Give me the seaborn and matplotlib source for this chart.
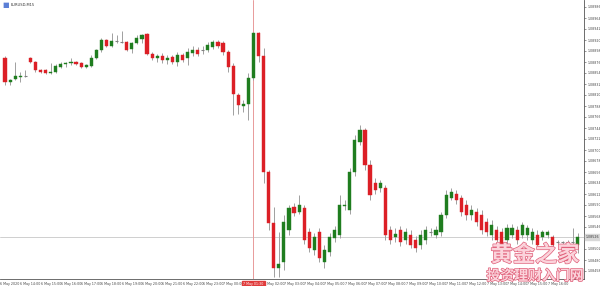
import numpy as np
import pandas as pd
import matplotlib
matplotlib.use("Agg")
import matplotlib.pyplot as plt
import matplotlib.patheffects as pe
import seaborn as sns

symbol = "EURUSD,M15"

opens = [1.08884, 1.08836, 1.08842, 1.08846, 1.08848, 1.08884, 1.08876, 1.08860, 1.08860, 1.08854,
         1.08856, 1.08866, 1.08872, 1.08874, 1.08876, 1.08874, 1.08866, 1.08868, 1.08884, 1.08900,
         1.08920, 1.08908, 1.08918, 1.08916, 1.08916, 1.08902, 1.08914, 1.08922, 1.08932, 1.08892,
         1.08884, 1.08888, 1.08880, 1.08886, 1.08876, 1.08890, 1.08884, 1.08894, 1.08900, 1.08900,
         1.08900, 1.08906, 1.08916, 1.08914, 1.08896, 1.08868, 1.08810, 1.08788, 1.08792, 1.08844,
         1.08934, 1.08888, 1.08656, 1.08554, 1.08464, 1.08476, 1.08540, 1.08586, 1.08576, 1.08584,
         1.08536, 1.08500, 1.08536, 1.08476, 1.08496, 1.08524, 1.08530, 1.08588, 1.08580, 1.08656,
         1.08716, 1.08740, 1.08670, 1.08634, 1.08624, 1.08624, 1.08540, 1.08526, 1.08540, 1.08520,
         1.08530, 1.08520, 1.08510, 1.08520, 1.08536, 1.08530, 1.08536, 1.08570, 1.08604, 1.08612,
         1.08604, 1.08590, 1.08570, 1.08576, 1.08570, 1.08556, 1.08530, 1.08540, 1.08536, 1.08520,
         1.08530, 1.08540, 1.08530, 1.08530, 1.08520, 1.08530, 1.08526, 1.08530, 1.08526, 1.08516,
         1.08516, 1.08516, 1.08516, 1.08510]
highs = [1.08888, 1.08842, 1.08876, 1.08856, 1.08860, 1.08886, 1.08878, 1.08862, 1.08862, 1.08874,
         1.08872, 1.08876, 1.08876, 1.08884, 1.08878, 1.08876, 1.08872, 1.08890, 1.08902, 1.08924,
         1.08922, 1.08934, 1.08930, 1.08938, 1.08918, 1.08916, 1.08930, 1.08932, 1.08934, 1.08896,
         1.08892, 1.08894, 1.08890, 1.08890, 1.08896, 1.08894, 1.08904, 1.08908, 1.08906, 1.08908,
         1.08916, 1.08920, 1.08920, 1.08918, 1.08900, 1.08874, 1.08814, 1.08800, 1.08854, 1.08936,
         1.08936, 1.08904, 1.08660, 1.08586, 1.08536, 1.08570, 1.08590, 1.08594, 1.08610, 1.08590,
         1.08544, 1.08534, 1.08544, 1.08510, 1.08534, 1.08548, 1.08610, 1.08600, 1.08664, 1.08730,
         1.08750, 1.08744, 1.08680, 1.08644, 1.08640, 1.08630, 1.08548, 1.08544, 1.08548, 1.08544,
         1.08540, 1.08528, 1.08540, 1.08548, 1.08544, 1.08548, 1.08576, 1.08620, 1.08624, 1.08620,
         1.08610, 1.08600, 1.08590, 1.08584, 1.08580, 1.08564, 1.08560, 1.08548, 1.08544, 1.08552,
         1.08552, 1.08548, 1.08556, 1.08550, 1.08544, 1.08540, 1.08540, 1.08540, 1.08530, 1.08520,
         1.08518, 1.08520, 1.08544, 1.08534]
lows = [1.08830, 1.08830, 1.08840, 1.08836, 1.08846, 1.08874, 1.08856, 1.08854, 1.08852, 1.08852,
        1.08854, 1.08864, 1.08866, 1.08870, 1.08870, 1.08864, 1.08864, 1.08866, 1.08882, 1.08896,
        1.08906, 1.08906, 1.08914, 1.08914, 1.08898, 1.08894, 1.08912, 1.08914, 1.08890, 1.08880,
        1.08876, 1.08874, 1.08872, 1.08872, 1.08868, 1.08876, 1.08870, 1.08888, 1.08888, 1.08892,
        1.08896, 1.08902, 1.08904, 1.08890, 1.08856, 1.08770, 1.08772, 1.08776, 1.08760, 1.08840,
        1.08876, 1.08634, 1.08540, 1.08446, 1.08446, 1.08460, 1.08530, 1.08568, 1.08572, 1.08512,
        1.08496, 1.08490, 1.08476, 1.08464, 1.08488, 1.08516, 1.08524, 1.08580, 1.08572, 1.08648,
        1.08710, 1.08660, 1.08600, 1.08612, 1.08616, 1.08520, 1.08512, 1.08516, 1.08508, 1.08512,
        1.08504, 1.08496, 1.08502, 1.08512, 1.08528, 1.08524, 1.08528, 1.08564, 1.08600, 1.08592,
        1.08568, 1.08560, 1.08560, 1.08548, 1.08532, 1.08528, 1.08520, 1.08512, 1.08504, 1.08512,
        1.08524, 1.08512, 1.08524, 1.08520, 1.08512, 1.08504, 1.08520, 1.08524, 1.08500, 1.08512,
        1.08512, 1.08512, 1.08494, 1.08494]
closes = [1.08836, 1.08840, 1.08848, 1.08848, 1.08848, 1.08876, 1.08860, 1.08856, 1.08854, 1.08856,
          1.08868, 1.08872, 1.08874, 1.08876, 1.08872, 1.08866, 1.08870, 1.08884, 1.08900, 1.08920,
          1.08908, 1.08918, 1.08918, 1.08916, 1.08900, 1.08914, 1.08924, 1.08930, 1.08892, 1.08884,
          1.08888, 1.08880, 1.08884, 1.08876, 1.08890, 1.08880, 1.08896, 1.08900, 1.08892, 1.08900,
          1.08910, 1.08916, 1.08908, 1.08896, 1.08866, 1.08812, 1.08790, 1.08792, 1.08844, 1.08934,
          1.08888, 1.08656, 1.08554, 1.08464, 1.08472, 1.08556, 1.08584, 1.08574, 1.08590, 1.08520,
          1.08504, 1.08526, 1.08484, 1.08500, 1.08526, 1.08540, 1.08590, 1.08590, 1.08656, 1.08720,
          1.08740, 1.08670, 1.08610, 1.08620, 1.08634, 1.08530, 1.08520, 1.08532, 1.08516, 1.08536,
          1.08510, 1.08504, 1.08530, 1.08540, 1.08536, 1.08540, 1.08570, 1.08610, 1.08616, 1.08600,
          1.08576, 1.08570, 1.08580, 1.08556, 1.08540, 1.08536, 1.08550, 1.08520, 1.08510, 1.08544,
          1.08544, 1.08520, 1.08550, 1.08544, 1.08536, 1.08510, 1.08536, 1.08536, 1.08510, 1.08516,
          1.08516, 1.08516, 1.08516, 1.08526]

price_ticks = [1.08986, 1.08964, 1.08942, 1.08920, 1.08898, 1.08876, 1.08854, 1.08832, 1.08810,
               1.08788, 1.08766, 1.08744, 1.08722, 1.08700, 1.08678, 1.08656, 1.08634, 1.08612,
               1.08590, 1.08568, 1.08546, 1.08524, 1.08502, 1.08480, 1.08458]
time_labels = ["6 May 2020", "6 May 14:00", "6 May 15:00", "6 May 16:00", "6 May 17:00",
               "6 May 18:00", "6 May 19:00", "6 May 20:00", "6 May 21:00", "6 May 22:00",
               "6 May 23:00", "7 May 00:00", "7 May 01:00", "7 May 02:00", "7 May 03:00",
               "7 May 04:00", "7 May 05:00", "7 May 06:00", "7 May 07:00", "7 May 08:00",
               "7 May 09:00", "7 May 10:00", "7 May 11:00", "7 May 12:00", "7 May 13:00",
               "7 May 14:00", "7 May 15:00", "7 May 16:00"]
cursor_bar = 49
cursor_label = "7 May 01:30"
bid_price = 1.08526

sns.set_theme(style="white")
plt.rcParams["font.family"] = ["DejaVu Sans"]

df = pd.DataFrame({"o": opens, "h": highs, "l": lows, "c": closes})
df["i"] = np.arange(len(df))
up = df[df.c > df.o]
dn = df[df.c < df.o]
dj = df[df.c == df.o]

GREEN = "#1f7d1f"
RED = "#dc1f26"
WICK = "#a0a0a0"
W = 0.62
FS = 2.3

fig = plt.figure(figsize=(6.0, 2.86), dpi=100)
ax = fig.add_axes([0.0, 7 / 286, 584 / 600, 279 / 286])

ax.vlines(df.i, df.l, df.h, color=WICK, lw=0.7, zorder=1)
ax.bar(up.i, up.c - up.o, bottom=up.o, width=W, color=GREEN, edgecolor=GREEN, lw=0.3, zorder=2)
ax.bar(dn.i, dn.o - dn.c, bottom=dn.c, width=W, color=RED, edgecolor=RED, lw=0.3, zorder=2)
ax.hlines(dj.o, dj.i - W / 2, dj.i + W / 2, color="#808080", lw=0.8, zorder=2)

ax.axhline(bid_price, color="#c8c8c8", lw=0.6, zorder=0)
ax.axvline(cursor_bar, color="#e89a9a", lw=0.7, zorder=0)

ax.set_xlim(-1.0, 114.2)
ax.set_ylim(1.08442, 1.09000)

ax.yaxis.tick_right()
ax.set_yticks(price_ticks)
ax.set_yticklabels([f"{p:.5f}" for p in price_ticks], fontsize=FS, color="#333333")
ax.tick_params(axis="y", length=1.5, width=0.4, pad=0.8, colors="#444444")

xt = [-1 + 4 * k for k in range(len(time_labels))]
ax.set_xticks(xt)
ax.set_xticklabels(time_labels, fontsize=FS, color="#333333", ha="left")
ax.tick_params(axis="x", length=3, width=0.4, pad=0.8, colors="#444444", direction="inout")

for s in ["top", "left"]:
    ax.spines[s].set_visible(False)
for s in ["right", "bottom"]:
    ax.spines[s].set_color("#555555")
    ax.spines[s].set_linewidth(0.6)

# bid label on right axis (replaces nearby tick label)
for lab, p in zip(ax.get_yticklabels(), price_ticks):
    if abs(p - bid_price) < 0.00008:
        lab.set_visible(False)
ax.text(1.003, bid_price, f"{bid_price:.5f}", transform=ax.get_yaxis_transform(),
        fontsize=FS, color="#333333", va="center", ha="left",
        bbox=dict(boxstyle="square,pad=0.2", fc="#d8d8d8", ec="#d8d8d8"), clip_on=False)
# cursor label
ax.text(cursor_bar, -0.012, cursor_label, transform=ax.get_xaxis_transform(),
        fontsize=FS, color="white", va="top", ha="center", zorder=5,
        bbox=dict(boxstyle="square,pad=0.3", fc="#e03b3b", ec="#e03b3b"), clip_on=False)

# title
fig.text(2 / 600, 1 - 4.5 / 286, "\u25A0", fontsize=5, color="#5b7fd6", va="center", ha="left")
fig.text(11 / 600, 1 - 4.5 / 286, symbol, fontsize=2.6, color="#333333", va="center", ha="left")

# watermark
cjk = ["Noto Sans CJK SC", "DejaVu Sans"]
fx = [pe.withStroke(linewidth=1.0, foreground="#e0607a")]
fig.text(535 / 600, 1 - 255 / 286, "黄金之家", fontsize=16, family=cjk, color="#fbd3db",
         ha="center", va="center", path_effects=fx, fontweight="bold")
fig.text(535 / 600, 1 - 276 / 286, "投资理财入门网", fontsize=10, family=cjk, color="#fbd3db",
         ha="center", va="center", path_effects=fx, fontweight="bold")

fig.savefig("out.png", dpi=100, facecolor="white")
